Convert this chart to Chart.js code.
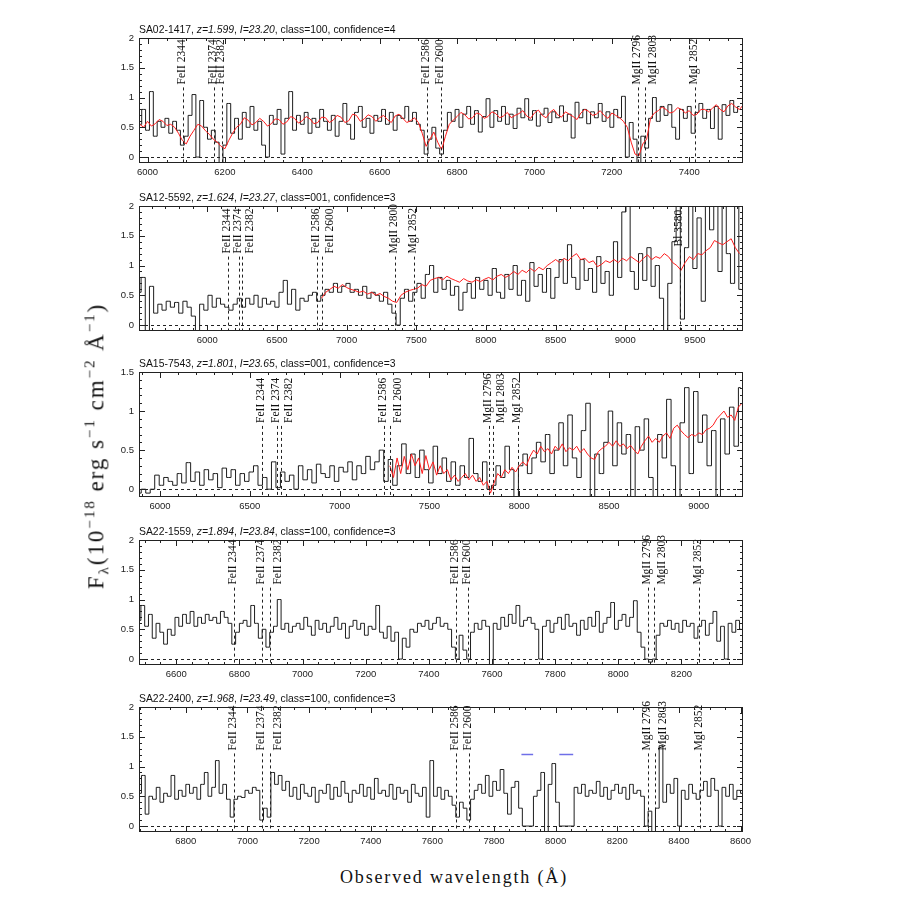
<!DOCTYPE html>
<html>
<head>
<meta charset="utf-8">
<script src="https://cdn.jsdelivr.net/npm/chart.js@4"></script>
<style>
  body { margin: 0; background: #fff; width: 900px; height: 900px; position: relative; overflow: hidden; }
  canvas { position: absolute; left: 0; }
  #ytitle { position: absolute; left: 97px; top: 446px; transform: translate(-50%, -50%) rotate(-90deg);
            font: 23px "Liberation Serif", serif; color: #111; white-space: nowrap; }
  #ytitle sup, #ytitle sub { font-size: 15px; }
  #xtitle { position: absolute; left: 454px; top: 877px; transform: translate(-50%, -50%);
            font: 18px "Liberation Serif", serif; color: #111; white-space: nowrap; }
</style>
</head>
<body>
<canvas id="c1" width="900" height="170" style="top:14px"></canvas>
<canvas id="c2" width="900" height="170" style="top:182px"></canvas>
<canvas id="c3" width="900" height="170" style="top:348px"></canvas>
<canvas id="c4" width="900" height="170" style="top:516px"></canvas>
<canvas id="c5" width="900" height="170" style="top:683px"></canvas>
<div id="ytitle">F<sub>λ</sub>(10<sup>−18</sup> erg s<sup>−1</sup> cm<sup>−2</sup> Å<sup>−1</sup>)</div>
<div id="xtitle">Observed wavelength (Å)</div>
<script>
// ---- panel 1: SA02-1417 ----
var p1Title = ['SA02-1417', '1.599', '23.20', '100', '4'];
var p1Wave0 = 5980, p1Step = 10;
var p1Flux = [0.55,0.80,0.45,1.10,0.35,0.60,0.50,0.65,0.40,0.60,
  0.45,0.20,0.35,0.70,1.05,0.00,0.95,0.50,0.30,0.45,
  0.25,-0.10,0.20,0.90,0.40,0.65,0.30,0.75,0.50,0.85,
  0.45,0.60,0.20,0.00,0.70,0.55,0.80,0.05,0.65,1.10,
  0.45,0.70,0.55,0.75,0.40,0.65,0.50,0.80,0.60,0.45,
  0.70,0.35,0.60,0.90,0.55,0.30,0.75,0.85,0.50,0.65,
  0.40,0.70,0.60,0.80,0.55,0.75,0.45,0.70,0.65,0.85,
  0.60,0.75,0.55,0.45,0.05,0.30,0.50,0.15,0.05,0.45,
  0.75,0.60,0.80,0.50,0.72,0.85,0.55,0.78,0.42,0.68,
  0.98,0.50,0.78,0.60,0.85,0.55,0.72,0.48,0.82,0.66,
  0.98,0.62,0.78,0.52,0.72,0.82,0.58,0.76,0.66,0.86,
  0.60,0.72,0.32,0.92,0.66,0.80,0.56,0.76,0.66,0.90,
  0.60,0.76,0.50,0.80,0.66,1.02,0.00,0.58,0.30,-0.10,
  0.35,0.15,0.65,1.00,0.60,0.85,0.70,0.88,0.50,0.30,
  0.80,0.65,0.85,0.40,0.75,0.90,0.65,0.80,0.48,0.85,
  0.30,0.88,0.70,0.95,0.75,0.85];
var p1ModelWave0 = 5980, p1ModelStep = 10;
var p1Model = [0.55,0.50,0.60,0.52,0.56,0.63,0.60,0.53,0.55,0.50,
  0.40,0.28,0.22,0.35,0.45,0.55,0.52,0.44,0.38,0.30,
  0.25,0.18,0.14,0.28,0.40,0.50,0.55,0.66,0.62,0.54,
  0.58,0.65,0.60,0.52,0.56,0.64,0.63,0.55,0.59,0.68,
  0.65,0.57,0.61,0.68,0.64,0.56,0.58,0.67,0.66,0.58,
  0.62,0.70,0.67,0.58,0.61,0.72,0.70,0.60,0.64,0.71,
  0.68,0.60,0.66,0.70,0.63,0.58,0.69,0.72,0.65,0.58,
  0.61,0.66,0.58,0.40,0.18,0.30,0.42,0.25,0.12,0.35,
  0.55,0.62,0.68,0.75,0.71,0.64,0.66,0.74,0.72,0.65,
  0.68,0.76,0.73,0.66,0.69,0.75,0.66,0.70,0.73,0.78,
  0.69,0.65,0.74,0.79,0.70,0.66,0.75,0.80,0.71,0.67,
  0.76,0.72,0.68,0.63,0.74,0.80,0.77,0.70,0.72,0.78,
  0.70,0.65,0.74,0.70,0.66,0.60,0.50,0.25,0.05,0.02,
  0.22,0.30,0.65,0.74,0.78,0.84,0.80,0.74,0.76,0.83,
  0.80,0.74,0.78,0.70,0.72,0.80,0.80,0.76,0.82,0.88,
  0.80,0.76,0.86,0.90,0.84,0.80,0.88];
var p1Lines = [6092.6, 6171.2, 6192.8, 6722.7, 6757.8, 7267.7, 7286.4, 7414.8];
var p1LineLabels = ['FeII 2344','FeII 2374','FeII 2382','FeII 2586','FeII 2600','MgII 2796','MgII 2803','MgI 2852'];
var p1XTicks = [6000, 6200, 6400, 6600, 6800, 7000, 7200, 7400];

// ---- panel 2: SA12-5592 ----
var p2Title = ['SA12-5592', '1.624', '23.27', '001', '3'];
var p2Wave0 = 5510, p2Step = 30;
var p2Flux = [0.55,0.80,-0.10,0.65,0.20,0.35,0.25,0.40,0.30,0.38,
  0.20,0.40,0.30,0.15,-0.10,0.35,0.25,0.50,0.30,0.45,
  0.35,0.30,0.25,0.35,0.45,0.30,0.45,0.35,0.50,0.30,
  0.45,0.35,0.40,0.30,0.55,0.75,0.35,0.60,0.25,0.45,
  0.40,0.50,0.55,0.40,0.50,0.60,0.55,0.70,0.55,0.65,
  0.70,0.55,0.60,0.50,0.65,0.45,0.55,0.50,0.40,0.55,
  0.35,0.20,0.00,0.45,0.60,0.40,0.55,0.70,0.45,0.85,
  1.00,0.55,0.80,0.60,0.75,0.50,0.65,0.25,0.55,0.70,
  0.45,0.80,0.60,0.75,0.50,0.95,0.55,0.45,0.85,0.60,
  1.00,0.50,0.75,0.40,1.05,0.65,0.85,0.55,0.95,0.45,
  0.80,1.10,0.70,1.35,0.80,0.60,1.10,0.75,0.95,0.55,
  1.15,0.70,0.90,0.50,1.40,0.80,1.90,2.20,0.90,0.60,
  1.20,0.75,1.30,0.65,1.00,0.45,-0.20,0.70,1.40,2.20,
  0.10,1.30,2.20,0.95,1.80,0.40,2.20,1.60,2.20,0.90,
  2.20,1.20,0.70,2.20,0.60];
var p2ModelWave0 = 6820, p2ModelStep = 30;
var p2Model = [0.45,0.55,0.60,0.65,0.62,0.68,0.63,0.60,0.58,0.55,
  0.57,0.52,0.55,0.50,0.53,0.48,0.45,0.40,0.38,0.50,
  0.55,0.58,0.60,0.62,0.68,0.65,0.75,0.78,0.80,0.76,
  0.82,0.78,0.75,0.72,0.78,0.74,0.72,0.76,0.73,0.77,
  0.80,0.76,0.82,0.85,0.80,0.84,0.90,0.85,0.92,0.88,
  0.95,0.90,0.97,0.93,1.00,1.05,1.10,1.05,1.12,1.08,
  1.15,1.20,1.10,1.12,1.05,1.08,0.98,1.02,1.08,1.05,
  1.10,1.05,1.12,1.08,1.15,1.10,1.05,1.12,1.18,1.10,
  1.15,1.12,1.20,1.15,1.05,1.00,0.92,1.05,1.15,1.10,
  1.20,1.18,1.25,1.30,1.42,1.38,1.35,1.40,1.45,1.30,
  1.20];
var p2Lines = [6151.2, 6230.6, 6252.4, 6787.4, 6822.8, 7344.8, 7486.2, 9394];
var p2LineLabels = ['FeII 2344','FeII 2374','FeII 2382','FeII 2586','FeII 2600','MgII 2800','MgI 2852','Bl 3580'];
var p2XTicks = [6000, 6500, 7000, 7500, 8000, 8500, 9000, 9500];

// ---- panel 3: SA15-7543 ----
var p3Title = ['SA15-7543', '1.801', '23.65', '001', '3'];
var p3Wave0 = 5883, p3Step = 25;
var p3Flux = [-0.05,0.00,-0.05,0.00,0.18,0.05,0.15,0.10,0.05,0.20,
  0.08,0.34,0.10,0.22,0.05,0.25,0.12,0.20,0.02,0.27,
  0.15,0.25,0.05,0.20,0.10,0.22,0.30,0.05,0.15,0.00,
  0.35,0.02,0.22,0.10,0.18,0.00,0.30,0.12,0.25,0.08,
  0.32,0.20,0.15,0.30,0.10,0.28,0.22,0.35,0.12,0.30,
  0.20,0.42,0.25,0.35,0.50,0.10,0.38,0.05,0.30,0.58,
  0.20,0.45,0.15,0.50,0.25,0.08,0.55,0.20,0.40,0.10,
  0.35,0.05,0.30,0.15,0.65,0.20,0.10,0.35,0.00,0.05,
  0.30,0.15,0.55,0.25,-0.10,0.30,0.45,0.20,0.40,0.60,
  0.35,0.70,0.20,0.50,0.85,0.30,0.95,0.40,0.15,0.75,
  1.10,-0.10,0.45,0.20,0.60,1.00,0.30,0.85,0.45,0.70,
  -0.10,0.80,0.50,0.90,0.15,-0.10,0.70,0.40,1.15,0.30,
  -0.10,0.85,1.30,0.20,1.25,0.60,0.95,0.30,0.75,-0.10,
  0.90,0.45,1.05,0.55,1.30];
var p3ModelWave0 = 7280, p3ModelStep = 20;
var p3Model = [0.30,0.15,0.40,0.20,0.42,0.25,0.45,0.30,0.40,0.20,
  0.43,0.25,0.35,0.18,0.30,0.20,0.25,0.12,0.18,0.10,
  0.15,0.20,0.12,0.18,0.10,0.15,0.05,0.10,-0.05,0.08,
  0.20,0.15,0.25,0.20,0.28,0.22,0.30,0.35,0.30,0.42,
  0.50,0.45,0.55,0.48,0.52,0.45,0.55,0.50,0.58,0.48,
  0.53,0.50,0.55,0.47,0.52,0.45,0.40,0.38,0.48,0.52,
  0.55,0.60,0.55,0.62,0.55,0.58,0.52,0.56,0.50,0.45,
  0.55,0.62,0.68,0.60,0.65,0.60,0.68,0.72,0.65,0.78,
  0.82,0.75,0.70,0.66,0.70,0.68,0.72,0.70,0.76,0.78,
  0.82,0.90,0.95,1.00,0.92,0.95,0.88,1.05,1.10];
var p3Lines = [6566.1, 6650.9, 6674.1, 7245.2, 7283.1, 7832.6, 7852.7, 7991.1];
var p3LineLabels = ['FeII 2344','FeII 2374','FeII 2382','FeII 2586','FeII 2600','MgII 2796','MgII 2803','MgI 2852'];
var p3XTicks = [6000, 6500, 7000, 7500, 8000, 8500, 9000];

// ---- panel 4: SA22-1559 ----
var p4Title = ['SA22-1559', '1.894', '23.84', '100', '3'];
var p4Wave0 = 6482, p4Step = 12;
var p4Flux = [0.65,0.90,0.55,0.75,0.35,0.60,0.45,0.25,0.50,0.40,
  0.70,0.55,0.75,0.60,0.80,0.55,0.70,0.60,0.75,0.65,
  0.70,0.60,0.80,0.70,0.60,0.25,0.45,0.60,0.65,0.55,
  0.90,0.60,0.35,0.50,0.20,0.45,0.55,1.00,0.50,0.60,
  0.45,0.55,0.60,0.50,0.70,0.55,0.40,0.65,0.50,0.60,
  0.45,0.55,0.70,0.50,0.60,0.35,0.55,0.65,0.50,0.60,
  0.40,0.55,0.50,0.90,0.45,0.35,0.55,0.30,0.45,0.00,
  0.35,0.20,0.50,0.45,0.60,0.55,0.65,0.50,0.60,0.70,
  0.55,0.60,0.50,0.20,0.00,0.40,0.15,0.00,0.45,0.60,
  0.50,0.65,0.55,-0.10,0.60,0.50,0.70,0.55,0.75,0.60,
  0.90,0.55,0.65,0.70,0.60,0.50,0.00,0.55,0.65,0.45,
  0.60,0.70,0.50,0.75,0.55,0.60,0.40,0.65,0.50,0.70,
  0.55,0.80,0.45,0.60,0.70,0.95,0.50,0.65,0.75,0.55,
  0.70,0.98,0.45,0.20,0.00,-0.05,0.00,0.40,0.60,0.55,
  0.65,0.50,0.60,0.45,0.65,0.55,0.60,0.35,0.55,0.65,
  0.40,0.60,0.80,0.30,0.55,0.00,0.60,0.45,0.65,0.50];
var p4Lines = [6784.1, 6871.7, 6895.7, 7485.8, 7524.9, 8092.6, 8113.4, 8256.5];
var p4LineLabels = ['FeII 2344','FeII 2374','FeII 2382','FeII 2586','FeII 2600','MgII 2796','MgII 2803','MgI 2852'];
var p4XTicks = [6600, 6800, 7000, 7200, 7400, 7600, 7800, 8000, 8200];

// ---- panel 5: SA22-2400 ----
var p5Title = ['SA22-2400', '1.968', '23.49', '100', '3'];
var p5Wave0 = 6650, p5Step = 12;
var p5Flux = [0.55,0.85,0.20,0.50,0.45,0.65,0.40,0.55,0.50,0.85,
  0.45,0.60,0.50,0.70,0.55,0.65,0.45,0.70,0.90,0.50,
  0.65,1.10,0.55,0.70,0.45,0.15,0.45,0.50,0.48,0.60,
  0.55,0.65,0.60,0.10,0.30,0.15,0.90,0.70,0.85,0.60,
  0.75,0.50,0.65,0.45,0.70,0.55,0.50,0.65,0.40,0.60,
  0.55,0.70,0.45,0.65,0.50,0.75,0.55,0.40,0.60,0.55,
  0.70,0.50,0.65,0.45,0.80,0.55,0.60,0.50,0.70,0.45,
  0.65,0.55,0.60,0.40,0.70,0.55,0.50,0.65,0.15,1.10,
  0.50,0.65,0.45,0.60,0.50,0.35,0.15,0.40,0.30,0.10,
  0.45,0.60,0.70,0.55,0.85,0.50,0.75,0.60,0.95,0.55,
  0.20,0.65,0.75,0.30,0.00,0.00,0.00,0.50,0.60,0.90,
  -0.10,0.70,1.05,0.40,0.00,0.00,0.00,0.00,0.65,0.55,
  0.70,0.50,0.60,0.55,0.75,0.50,0.65,0.45,0.60,0.70,
  0.55,0.65,0.45,0.70,0.55,0.60,0.50,0.00,0.25,-0.10,
  0.30,1.35,0.40,0.70,0.55,0.80,0.00,0.60,0.45,0.70,
  0.55,0.45,0.60,0.75,0.50,0.80,0.60,0.00,0.65,0.50,
  0.70,0.45,0.60,0.55];
var p5MaskStart = [7889, 8012];
var p5MaskEnd = [7927, 8057];
var p5MaskLevel = 1.2;
var p5Lines = [6957.6, 7047.4, 7072.1, 7677.2, 7717.3, 8299.6, 8320.9, 8467.6];
var p5LineLabels = ['FeII 2344','FeII 2374','FeII 2382','FeII 2586','FeII 2600','MgII 2796','MgII 2803','MgI 2852'];
var p5XTicks = [6800, 7000, 7200, 7400, 7600, 7800, 8000, 8200, 8400, 8600];

var yTicks2 = [0, 0.5, 1, 1.5, 2];
var yTicks15 = [0, 0.5, 1, 1.5];

var SANS = '"Liberation Sans", Arial, sans-serif';
var SERIF = '"Liberation Serif", serif';

function series(w0, step, vals) {
  return vals.map(function (v, i) { return { x: w0 + i * step, y: v }; });
}

function maskSegments(starts, ends, level) {
  var pts = [];
  starts.forEach(function (s, i) {
    pts.push({ x: s, y: level }, { x: ends[i], y: level }, { x: (ends[i] + (starts[i + 1] || ends[i] + 10)) / 2, y: null });
  });
  return pts;
}

var panels = [
  { id: 'c1', xmin: 5978, xmax: 7539, ymax: 2, yTicks: yTicks2, xTicks: p1XTicks, xMinor: 50, xMajor: 200,
    flux: series(p1Wave0, p1Step, p1Flux), model: series(p1ModelWave0, p1ModelStep, p1Model),
    lines: p1Lines, labels: p1LineLabels, base: 1.17, title: p1Title },
  { id: 'c2', xmin: 5510, xmax: 9845, ymax: 2, yTicks: yTicks2, xTicks: p2XTicks, xMinor: 100, xMajor: 500,
    flux: series(p2Wave0, p2Step, p2Flux), model: series(p2ModelWave0, p2ModelStep, p2Model),
    lines: p2Lines, labels: p2LineLabels, base: [1.15, 1.15, 1.15, 1.15, 1.15, 1.15, 1.15, 1.27], title: p2Title },
  { id: 'c3', xmin: 5883, xmax: 9246, ymax: 1.5, yTicks: yTicks15, xTicks: p3XTicks, xMinor: 100, xMajor: 500,
    flux: series(p3Wave0, p3Step, p3Flux), model: series(p3ModelWave0, p3ModelStep, p3Model),
    lines: p3Lines, labels: p3LineLabels, base: 0.81, title: p3Title },
  { id: 'c4', xmin: 6482, xmax: 8395, ymax: 2, yTicks: yTicks2, xTicks: p4XTicks, xMinor: 50, xMajor: 200,
    flux: series(p4Wave0, p4Step, p4Flux), model: null,
    lines: p4Lines, labels: p4LineLabels, base: 1.2, title: p4Title },
  { id: 'c5', xmin: 6648, xmax: 8608, ymax: 2, yTicks: yTicks2, xTicks: p5XTicks, xMinor: 50, xMajor: 200,
    flux: series(p5Wave0, p5Step, p5Flux), model: null, mask: maskSegments(p5MaskStart, p5MaskEnd, p5MaskLevel),
    lines: p5Lines, labels: p5LineLabels, base: 1.22, title: p5Title }
];

// frame, inward ticks, zero line, line ids and title
function framePlugin(p) {
  return {
    id: 'frame' + p.id,
    afterDatasetsDraw: function (chart) {
      var ctx = chart.ctx, a = chart.chartArea, x = chart.scales.x, y = chart.scales.y;
      ctx.save();
      ctx.strokeStyle = '#222';
      ctx.fillStyle = '#111';
      ctx.lineWidth = 1;

      // dashed zero level
      ctx.setLineDash([3, 3]);
      var y0 = Math.round(y.getPixelForValue(0)) + 0.5;
      ctx.beginPath(); ctx.moveTo(a.left, y0); ctx.lineTo(a.right, y0); ctx.stroke();

      // absorption line markers; a label that would collide with the previous one goes on the right
      ctx.font = '11.5px ' + SERIF;
      ctx.textAlign = 'left';
      var prevX = -100;
      p.lines.forEach(function (w, i) {
        var b = Array.isArray(p.base) ? p.base[i] : p.base;
        var rawX = x.getPixelForValue(w);
        var px = Math.round(rawX) + 0.5;
        var top = y.getPixelForValue(b);
        var right = (rawX - prevX) < 8.2;
        prevX = rawX;
        ctx.setLineDash([3, 3]);
        ctx.beginPath(); ctx.moveTo(px, top); ctx.lineTo(px, a.bottom); ctx.stroke();
        ctx.save();
        ctx.translate(right ? px + 2 : px + 1, top - 3);
        ctx.rotate(-Math.PI / 2);
        ctx.textBaseline = right ? 'top' : 'alphabetic';
        ctx.fillText(p.labels[i], 0, 0);
        ctx.restore();
      });

      // frame
      ctx.setLineDash([]);
      ctx.strokeRect(a.left + 0.5, a.top + 0.5, a.right - a.left - 1, a.bottom - a.top - 1);

      // inward ticks
      ctx.beginPath();
      var v0 = Math.ceil(p.xmin / p.xMinor) * p.xMinor;
      for (var v = v0; v <= p.xmax; v += p.xMinor) {
        var len = (v % p.xMajor === 0) ? 6 : 3;
        var tx0 = Math.round(x.getPixelForValue(v)) + 0.5;
        ctx.moveTo(tx0, a.bottom); ctx.lineTo(tx0, a.bottom - len);
        ctx.moveTo(tx0, a.top); ctx.lineTo(tx0, a.top + len);
      }
      for (var k = 0; k <= Math.round(p.ymax * 10); k++) {
        var ylen = (k % 5 === 0) ? 6 : 3;
        var py = Math.round(y.getPixelForValue(k / 10)) + 0.5;
        ctx.moveTo(a.left, py); ctx.lineTo(a.left + ylen, py);
        ctx.moveTo(a.right, py); ctx.lineTo(a.right - ylen, py);
      }
      ctx.stroke();

      // panel title with italic z and I
      var t = p.title;
      var segs = [[t[0] + ', ', false], ['z=' + t[1], true], [', ', false], ['I=' + t[2], true],
                  [', class=' + t[3] + ', confidence=' + t[4], false]];
      var tx = a.left;
      ctx.textBaseline = 'alphabetic';
      segs.forEach(function (s) {
        ctx.font = (s[1] ? 'italic ' : '') + '10.4px ' + SANS;
        ctx.fillText(s[0], tx, a.top - 5);
        tx += ctx.measureText(s[0]).width;
      });
      ctx.restore();
    }
  };
}

panels.forEach(function (p) {
  var datasets = [];
  if (p.model) datasets.push({ data: p.model, borderColor: '#ff1c1c', borderWidth: 1, pointRadius: 0 });
  datasets.push({ data: p.flux, borderColor: '#1e1e1e', borderWidth: 1, pointRadius: 0, stepped: 'middle' });
  if (p.mask) datasets.push({ data: p.mask, borderColor: '#6f6fe8', borderWidth: 1.5, pointRadius: 0, spanGaps: false });

  new Chart(document.getElementById(p.id), {
    type: 'line',
    data: { datasets: datasets },
    options: {
      responsive: false,
      animation: false,
      events: [],
      layout: { padding: { left: 99, right: 157, top: 24, bottom: 0 } },
      plugins: { legend: { display: false }, tooltip: { enabled: false } },
      scales: {
        x: {
          type: 'linear', min: p.xmin, max: p.xmax,
          afterBuildTicks: function (ax) { ax.ticks = p.xTicks.map(function (v) { return { value: v }; }); },
          afterFit: function (s) { s.height = 21; },
          grid: { display: false, drawTicks: false },
          border: { display: false },
          ticks: { color: '#222', font: { family: SANS, size: 9.5 }, padding: 4, maxRotation: 0, autoSkip: false,
                   callback: function (v) { return String(v); } }
        },
        y: {
          min: -0.1, max: p.ymax,
          afterBuildTicks: function (ax) { ax.ticks = p.yTicks.map(function (v) { return { value: v }; }); },
          afterFit: function (s) { s.width = 40; },
          grid: { display: false, drawTicks: false },
          border: { display: false },
          ticks: { color: '#222', font: { family: SANS, size: 9.5 }, padding: 5,
                   callback: function (v) { return String(v); } }
        }
      }
    },
    plugins: [framePlugin(p)]
  });
});

// stretch axis titles to the lengths seen in the figure
function fitWidth(id, target) {
  var el = document.getElementById(id);
  var w = el.offsetWidth;
  var n = el.textContent.length;
  el.style.letterSpacing = ((target - w) / n) + 'px';
}
fitWidth('ytitle', 286);
fitWidth('xtitle', 228);
</script>
</body>
</html>
